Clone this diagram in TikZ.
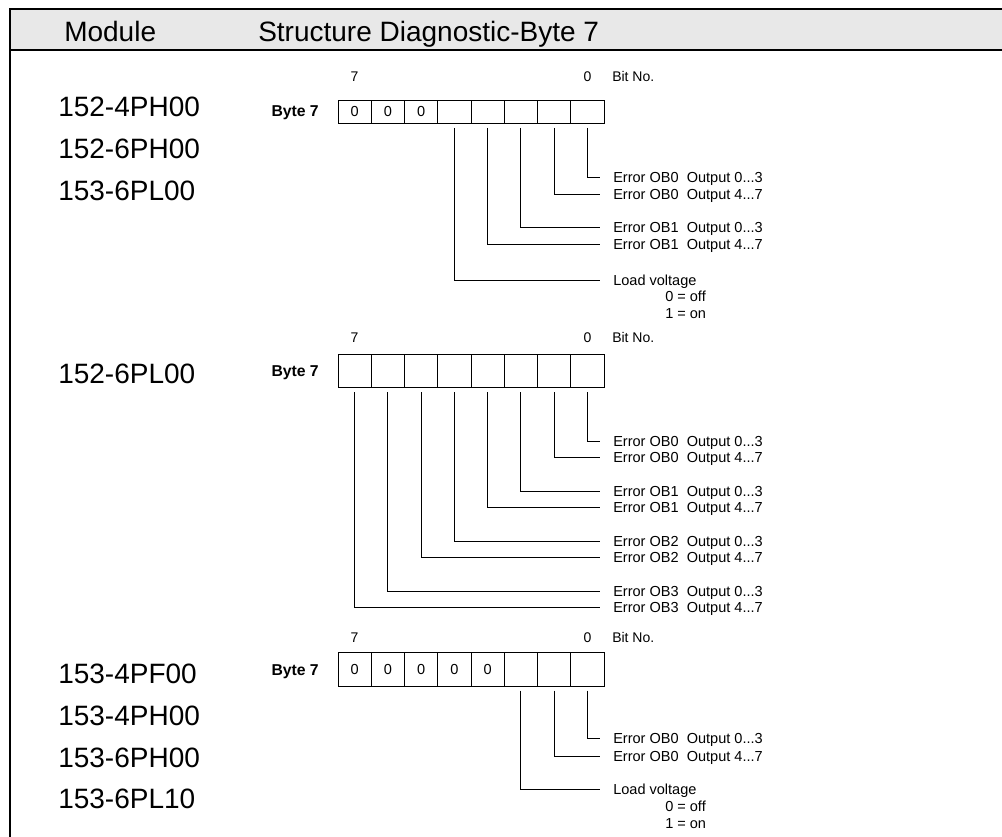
\documentclass[tikz,border=0pt]{standalone}
\usepackage{fontspec}
\setmainfont{Liberation Sans}
\definecolor{hdr}{HTML}{E8E8E8}
\newcommand\fsm{\fontsize{10.9pt}{13pt}\selectfont}
\newcommand\fbyte{\fontsize{11.8pt}{14pt}\selectfont\bfseries}
\newcommand\ftop{\fontsize{10.5pt}{12pt}\selectfont}
\newcommand\fbig{\fontsize{21pt}{25pt}\selectfont}
\newcommand\dsp{\hspace{0.556em}}
\begin{document}
\begin{tikzpicture}[x=0.75pt,y=-0.75pt,
  cell/.style={draw, line width=0.7pt, minimum width=24.94pt, inner sep=0pt, font=\fsm},
  lbl/.style={anchor=west, inner xsep=9.75pt, inner ysep=0pt, text height=7.8pt, text depth=0pt, font=\fsm},
  sub/.style={anchor=west, inner sep=0pt, text height=7.8pt, text depth=0pt, font=\fsm},
  conn/.style={line width=0.7pt},
  model/.style={anchor=base west, inner sep=0pt, font=\fbig},
  bitno/.style={inner sep=0pt, text height=7.5pt, text depth=0pt, font=\ftop},
  byte/.style={anchor=east, inner sep=0pt, text height=8.4pt, text depth=0pt, font=\fbyte},
  frame/.style={line width=1.6pt}]
\useasboundingbox (0,0) rectangle (1002,837);
% header
\fill[hdr] (10,9) rectangle (1002,50);
\draw[frame] (1002,9) -- (10,9) -- (10,837);
\draw[frame] (10,50) -- (1002,50);
\node[model] (hmod) at (64,42) {Module};
\node[model] (hstr) at (258,42) {Structure Diagnostic-Byte 7};
% module names
\node[model] (m1) at (58,117) {152-4PH00};
\node[model] (m2) at (58,159) {152-6PH00};
\node[model] (m3) at (58,201) {153-6PL00};
\node[model] (m4) at (58,384) {152-6PL00};
\node[model] (m5) at (58,683) {153-4PF00};
\node[model] (m6) at (58,725) {153-4PH00};
\node[model] (m7) at (58,767) {153-6PH00};
\node[model] (m8) at (58,808) {153-6PL10};
% ---------- group 1
\foreach \i/\t in {0/0,1/0,2/0,3/{},4/{},5/{},6/{},7/{}}
  \node[cell, minimum height=16.95pt] (a\i) at ({338+33.25*(\i+0.5)},112) {\t};
\node[bitno] (ahi) at (354.6,77) {7};
\node[bitno] (alo) at (587.4,77) {0};
\node[bitno,anchor=west] (abit) at (612,77) {Bit No.};
\node[byte] (ab) at (319,111) {Byte 7};
\node[lbl] (ae0) at (600,177) {Error OB0\dsp Output 0...3};
\node[lbl] (ae1) at (600,194) {Error OB0\dsp Output 4...7};
\node[lbl] (ae2) at (600,227) {Error OB1\dsp Output 0...3};
\node[lbl] (ae3) at (600,244) {Error OB1\dsp Output 4...7};
\node[lbl] (alv) at (600,280) {Load voltage};
\node[sub] (aoff) at (665,296) {0 = off};
\node[sub] (aon) at (665,313) {1 = on};
\draw[conn] ([yshift=-3pt]a7.south) |- (ae0.west);
\draw[conn] ([yshift=-3pt]a6.south) |- (ae1.west);
\draw[conn] ([yshift=-3pt]a5.south) |- (ae2.west);
\draw[conn] ([yshift=-3pt]a4.south) |- (ae3.west);
\draw[conn] ([yshift=-3pt]a3.south) |- (alv.west);
% ---------- group 2
\foreach \i in {0,...,7}
  \node[cell, minimum height=25.1pt] (b\i) at ({338+33.25*(\i+0.5)},371) {};
\node[bitno] (bhi) at (354.6,338) {7};
\node[bitno] (blo) at (587.4,338) {0};
\node[bitno,anchor=west] (bbit) at (612,338) {Bit No.};
\node[byte] (bb) at (319,371) {Byte 7};
\node[lbl] (be0) at (600,441) {Error OB0\dsp Output 0...3};
\node[lbl] (be1) at (600,457.7) {Error OB0\dsp Output 4...7};
\node[lbl] (be2) at (600,491) {Error OB1\dsp Output 0...3};
\node[lbl] (be3) at (600,507.7) {Error OB1\dsp Output 4...7};
\node[lbl] (be4) at (600,541) {Error OB2\dsp Output 0...3};
\node[lbl] (be5) at (600,557.7) {Error OB2\dsp Output 4...7};
\node[lbl] (be6) at (600,591) {Error OB3\dsp Output 0...3};
\node[lbl] (be7) at (600,607.7) {Error OB3\dsp Output 4...7};
\draw[conn] ([yshift=-3pt]b7.south) |- (be0.west);
\draw[conn] ([yshift=-3pt]b6.south) |- (be1.west);
\draw[conn] ([yshift=-3pt]b5.south) |- (be2.west);
\draw[conn] ([yshift=-3pt]b4.south) |- (be3.west);
\draw[conn] ([yshift=-3pt]b3.south) |- (be4.west);
\draw[conn] ([yshift=-3pt]b2.south) |- (be5.west);
\draw[conn] ([yshift=-3pt]b1.south) |- (be6.west);
\draw[conn] ([yshift=-3pt]b0.south) |- (be7.west);
% ---------- group 3
\foreach \i/\t in {0/0,1/0,2/0,3/0,4/0,5/{},6/{},7/{}}
  \node[cell, minimum height=25pt] (c\i) at ({338+33.25*(\i+0.5)},669.4) {\t};
\node[bitno] (chi) at (354.6,637) {7};
\node[bitno] (clo) at (587.4,637) {0};
\node[bitno,anchor=west] (cbit) at (612,637) {Bit No.};
\node[byte] (cb) at (319,669.4) {Byte 7};
\node[lbl] (ce0) at (600,738) {Error OB0\dsp Output 0...3};
\node[lbl] (ce1) at (600,756) {Error OB0\dsp Output 4...7};
\node[lbl] (clv) at (600,789) {Load voltage};
\node[sub] (coff) at (665,806) {0 = off};
\node[sub] (con) at (665,823) {1 = on};
\draw[conn] ([yshift=-3pt]c7.south) |- (ce0.west);
\draw[conn] ([yshift=-3pt]c6.south) |- (ce1.west);
\draw[conn] ([yshift=-3pt]c5.south) |- (clv.west);
\end{tikzpicture}
\end{document}
